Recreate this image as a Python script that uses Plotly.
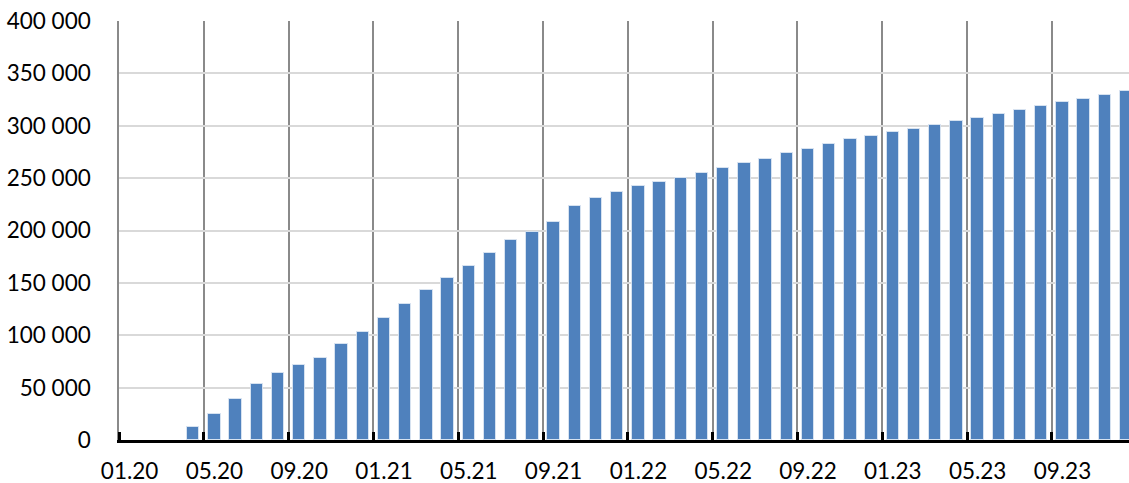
import plotly.graph_objects as go

months = [f"{m:02d}.{y}" for y in (20, 21, 22, 23) for m in range(1, 13)]
values = [
    None, None, None, 12600, 24400, 38900, 53800, 64200, 71500, 78500, 91800, 103200,
    116800, 130100, 143400, 154400, 165900, 178700, 191100, 198700, 208000, 223300, 231500, 236900,
    242400, 246500, 250300, 255000, 259600, 264000, 268500, 273600, 277700, 282800, 286900, 290100,
    293600, 296800, 300500, 304100, 307300, 311100, 315000, 319100, 322300, 325800, 329600, 332800,
]
label_every = 4
y_ticks = [0, 50000, 100000, 150000, 200000, 250000, 300000, 350000, 400000]
y_tick_text = ["0", "50 000", "100 000", "150 000", "200 000", "250 000", "300 000", "350 000", "400 000"]

idx = list(range(len(months)))
label_pos = idx[::label_every]
label_text = months[::label_every]
boundaries = [i - 0.5 for i in label_pos]

fig = go.Figure()
fig.add_trace(go.Bar(
    x=idx, y=values, width=0.58,
    marker=dict(color="#4f81bd", line=dict(color="rgba(220,230,242,0.9)", width=1)),
    hoverinfo="skip",
))

font = dict(family="Lato, Carlito, Calibri, sans-serif", size=22.5, color="#000000")

fig.update_layout(
    width=1129, height=483,
    margin=dict(l=119, r=0, t=21, b=43, autoexpand=False),
    paper_bgcolor="white", plot_bgcolor="white",
    showlegend=False,
    font=font,
    bargap=0,
    xaxis=dict(
        range=[-0.5, 47.14],
        automargin=False,
        tickmode="array", tickvals=label_pos, ticktext=label_text,
        ticks="", showgrid=False, zeroline=False,
        showline=True, linecolor="#000000", linewidth=3,
        ticklabelstandoff=9,
        tickfont=font,
        minor=dict(
            tickmode="array", tickvals=boundaries,
            ticks="inside", ticklen=8, tickwidth=3, tickcolor="#000000",
            showgrid=True, gridcolor="#8a8a8a", gridwidth=1.5,
        ),
    ),
    yaxis=dict(
        range=[0, 400000],
        automargin=False,
        tickmode="array", tickvals=y_ticks, ticktext=y_tick_text,
        ticks="", showgrid=True, gridcolor="#d9d9d9", gridwidth=1.5,
        zeroline=False,
        showline=True, linecolor="#8a8a8a", linewidth=1.5,
        ticklabelstandoff=22,
        tickfont=font,
    ),
)

fig.write_html(
    "out.html",
    config={"displayModeBar": False},
    post_script="document.body.style.margin='0';document.body.style.overflow='hidden';",
)
